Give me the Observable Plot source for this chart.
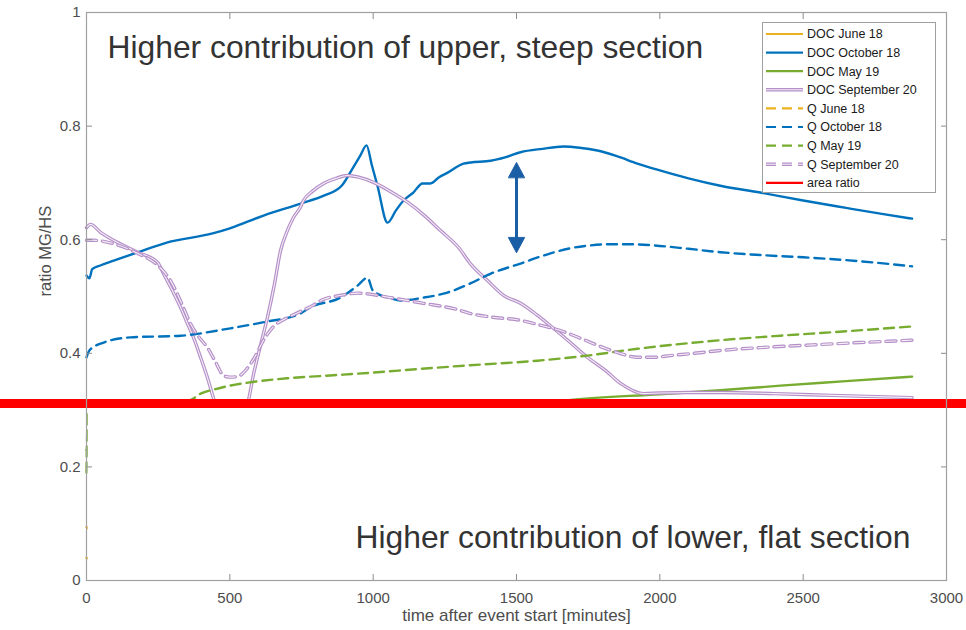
<!DOCTYPE html>
<html><head><meta charset="utf-8">
<script src="https://cdn.jsdelivr.net/npm/d3@7"></script>
<script src="https://cdn.jsdelivr.net/npm/@observablehq/plot@0.6"></script>
<style>
body{margin:0;background:#fff;}
#chart{position:relative;width:966px;height:630px;}
</style>
</head><body><div id="chart"></div>
<script>
// ---------- data (time in minutes, ratio MG/HS) ----------
const docJun18T = [0, 6];
const docJun18V = [0.094, 0.092];
const qJun18T = [0, 6];
const qJun18V = [0.040, 0.039];

const docOct18T = [0,10,20,50,95,180,280,440,500,620,750,830,890,930,955,977,995,1015,1050,1080,1106,1140,1172,1200,1230,1260,1315,1340,1410,1460,1514,1590,1664,1720,1782,1850,1922,2000,2100,2211,2350,2500,2650,2780,2880];
const docOct18V = [0.537,0.532,0.548,0.555,0.563,0.578,0.595,0.611,0.620,0.643,0.664,0.678,0.695,0.727,0.748,0.766,0.732,0.695,0.630,0.652,0.669,0.683,0.699,0.699,0.710,0.718,0.734,0.736,0.739,0.745,0.754,0.760,0.764,0.762,0.757,0.747,0.734,0.722,0.708,0.695,0.683,0.669,0.656,0.645,0.637];

const qOct18T = [0,10,49,153,328,502,620,746,781,886,945,980,998,1015,1060,1095,1175,1259,1339,1409,1514,1600,1688,1760,1828,1900,1978,2100,2211,2350,2500,2700,2880];
const qOct18V = [0.393,0.405,0.417,0.428,0.431,0.444,0.455,0.470,0.481,0.498,0.519,0.533,0.511,0.505,0.497,0.493,0.498,0.507,0.523,0.540,0.558,0.573,0.585,0.590,0.592,0.592,0.590,0.584,0.578,0.573,0.569,0.562,0.553];

const docMay19T = [0,500,1000,1500,1690,2000,2211,2421,2650,2880];
const docMay19V = [0.230,0.260,0.285,0.305,0.318,0.328,0.335,0.343,0.351,0.359];

const qMay19T = [0,3,8,60,200,363,398,450,500,572,700,850,1000,1150,1339,1573,1747,1922,2211,2421,2600,2874];
const qMay19V = [0.190,0.270,0.300,0.302,0.308,0.318,0.329,0.337,0.343,0.349,0.356,0.361,0.366,0.372,0.379,0.387,0.396,0.408,0.423,0.431,0.437,0.447];

const docSep20T = [0,14,49,94,178,248,269,300,328,350,373,400,422,450,505,561,583,610,631,655,677,700,722,746,757,790,827,870,910,950,1001,1060,1120,1180,1235,1300,1339,1399,1455,1514,1570,1629,1690,1747,1810,1863,1943,2000,2100,2211,2400,2600,2880];
const docSep20V = [0.621,0.627,0.613,0.599,0.578,0.560,0.540,0.510,0.481,0.455,0.428,0.390,0.357,0.310,0.270,0.310,0.364,0.420,0.463,0.520,0.581,0.615,0.639,0.657,0.669,0.686,0.699,0.708,0.713,0.710,0.701,0.685,0.666,0.642,0.616,0.585,0.558,0.528,0.502,0.488,0.468,0.444,0.418,0.393,0.370,0.347,0.329,0.330,0.331,0.331,0.329,0.326,0.322];

const qSep20T = [0,24,94,178,248,293,330,363,390,422,450,478,500,527,555,583,620,652,690,722,781,827,900,945,1060,1175,1294,1339,1409,1514,1580,1653,1730,1803,1860,1922,1980,2037,2120,2211,2350,2500,2700,2880];
const qSep20V = [0.599,0.599,0.593,0.576,0.555,0.528,0.490,0.452,0.430,0.410,0.385,0.361,0.358,0.359,0.370,0.390,0.425,0.447,0.460,0.468,0.482,0.495,0.503,0.506,0.498,0.488,0.477,0.470,0.464,0.458,0.450,0.440,0.425,0.410,0.400,0.393,0.393,0.396,0.400,0.405,0.410,0.414,0.419,0.423];

const areaRatio = [0.3116];
const arrowTime = 1500;
const arrowEnds = [0.736, 0.577];

const xTicks = [0,500,1000,1500,2000,2500,3000];
const yTicks = [0,0.2,0.4,0.6,0.8,1];

const legendNames = ["DOC June 18","DOC October 18","DOC May 19","DOC September 20","Q June 18","Q October 18","Q May 19","Q September 20","area ratio"];

const notes = ["Higher contribution of upper, steep section", "Higher contribution of lower, flat section"];
const xLabel = "time after event start [minutes]";
const yLabel = "ratio MG/HS";

// ---------- styles ----------
const C = {orange:"#EDB120", blue:"#0072BD", green:"#77AC30", purple:"#b590c8", purpleIn:"#f4eef7", red:"#ff0000", arrow:"#1a5ea6"};
const legendStyle = [
  {c:C.orange, dash:false, dbl:false},
  {c:C.blue, dash:false, dbl:false},
  {c:C.green, dash:false, dbl:false},
  {c:C.purple, dash:false, dbl:true},
  {c:C.orange, dash:true, dbl:false},
  {c:C.blue, dash:true, dbl:false},
  {c:C.green, dash:true, dbl:false},
  {c:C.purple, dash:true, dbl:true},
  {c:C.red, dash:false, dbl:false}
];

const rows = (T, V) => T.map((t, i) => ({t, v: V[i]}));
const DASH = "10,6";
const CURVE = "monotone-x";
const font = "'Liberation Sans', Arial, Helvetica, sans-serif";

const plainLine = (T, V, color, dashed) => Plot.line(rows(T, V), {x:"t", y:"v", stroke:color, strokeWidth:2.4, strokeDasharray: dashed ? DASH : null, curve: CURVE});
const dblLine = (T, V, dashed) => [
  Plot.line(rows(T, V), {x:"t", y:"v", stroke:C.purple, strokeWidth:3.4, strokeDasharray: dashed ? DASH : null, curve: CURVE}),
  Plot.line(rows(T, V), {x:"t", y:"v", stroke:C.purpleIn, strokeWidth:1.1, strokeDasharray: dashed ? DASH : null, curve: CURVE})
];

// filled triangular arrow head, drawn along the vector direction
const headShape = {
  draw(context, l) {
    context.moveTo(-8, 0);
    context.lineTo(0, -l);
    context.lineTo(8, 0);
    context.closePath();
  }
};

const chart = Plot.plot({
  width: 966, height: 630,
  marginLeft: 86, marginRight: 20, marginTop: 12, marginBottom: 50,
  style: {fontFamily: font, background: "#fff"},
  x: {domain: [0, 3000]},
  y: {domain: [0, 1]},
  marks: [
    plainLine(docJun18T, docJun18V, C.orange, false),
    plainLine(docOct18T, docOct18V, C.blue, false),
    plainLine(docMay19T, docMay19V, C.green, false),
    dblLine(docSep20T, docSep20V, false),
    plainLine(qJun18T, qJun18V, C.orange, true),
    plainLine(qOct18T, qOct18V, C.blue, true),
    plainLine(qMay19T, qMay19V, C.green, true),
    dblLine(qSep20T, qSep20V, true),
    // white box covering the lower part of the plot
    Plot.rect(areaRatio, {x1: 6, x2: 3000, y1: 0.003, y2: d => d, fill: "#fff"}),
    // area ratio line, extended across the full picture
    Plot.ruleY(areaRatio, {stroke: C.red, strokeWidth: 9, insetLeft: -86, insetRight: -20, clip: false}),
    // double arrow
    Plot.ruleX([arrowTime], {y1: arrowEnds[0], y2: arrowEnds[1], stroke: C.arrow, strokeWidth: 3, insetTop: 10, insetBottom: 10}),
    Plot.vector(arrowEnds.map((v, i) => ({t: arrowTime, v, rot: i === 0 ? 0 : 180})), {
      x: "t", y: "v", rotate: "rot", length: 15, anchor: "end", shape: headShape,
      fill: C.arrow, stroke: C.arrow, strokeWidth: 1
    }),
    // annotations
    Plot.text([notes[0]], {text: d => d, frameAnchor: "top-left", lineAnchor: "middle", dx: 21, dy: 35, textAnchor: "start", fontSize: 31.8, fill: "#333", fontFamily: font}),
    Plot.text([notes[1]], {text: d => d, frameAnchor: "bottom-right", lineAnchor: "middle", dx: -36, dy: -43, textAnchor: "end", fontSize: 31.8, fill: "#333", fontFamily: font}),
    // axes
    Plot.axisX({ticks: xTicks, tickSize: -6, tickPadding: 18, tickFormat: d => String(d), fontSize: 15, stroke: "#8c8c8c", fill: "#4d4d4d", label: null}),
    Plot.axisX({anchor: "top", ticks: xTicks, tickSize: -6, fill: "none", stroke: "#8c8c8c", label: null}),
    Plot.axisY({ticks: yTicks, tickSize: -6, tickPadding: 12, tickFormat: d => String(d), fontSize: 15, stroke: "#8c8c8c", fill: "#4d4d4d", label: null}),
    Plot.axisY({anchor: "right", ticks: yTicks, tickSize: -6, fill: "none", stroke: "#8c8c8c", label: null}),
    Plot.text([yLabel], {text: d => d, frameAnchor: "left", dx: -41, rotate: -90, fontSize: 16.5, fill: "#4d4d4d"}),
    Plot.text([xLabel], {text: d => d, frameAnchor: "bottom", dy: 40, fontSize: 17, fill: "#4d4d4d"}),
    Plot.frame({stroke: "#a0a0a0", strokeWidth: 1.2})
  ]
});
document.getElementById("chart").appendChild(chart);

// ---------- legend ----------
const svg = d3.select(chart);
const lg = svg.append("g").attr("font-family", font).attr("font-size", 12.5).attr("fill", "#1a1a1a").attr("text-anchor", "start");
const lx = 762, ly = 22, lw = 173, lh = 170, rowH = 18.6;
lg.append("rect").attr("x", lx + 0.5).attr("y", ly + 0.5).attr("width", lw).attr("height", lh)
  .attr("fill", "#fff").attr("stroke", "#a0a0a0").attr("stroke-width", 1);
legendNames.forEach((name, i) => {
  const s = legendStyle[i];
  const y = ly + 12 + i * rowH;
  const x1 = lx + 4, x2 = lx + 41;
  const ln = lg.append("line").attr("x1", x1).attr("x2", x2).attr("y1", y).attr("y2", y)
    .attr("stroke", s.c).attr("stroke-width", s.dbl ? 3.4 : 2.2);
  if (s.dash) ln.attr("stroke-dasharray", DASH);
  if (s.dbl) {
    const l2 = lg.append("line").attr("x1", x1).attr("x2", x2).attr("y1", y).attr("y2", y)
      .attr("stroke", C.purpleIn).attr("stroke-width", 1.1);
    if (s.dash) l2.attr("stroke-dasharray", DASH);
  }
  lg.append("text").attr("x", lx + 45).attr("y", y).attr("dy", "0.35em").attr("text-anchor", "start").text(name);
});
</script>
</body></html>
